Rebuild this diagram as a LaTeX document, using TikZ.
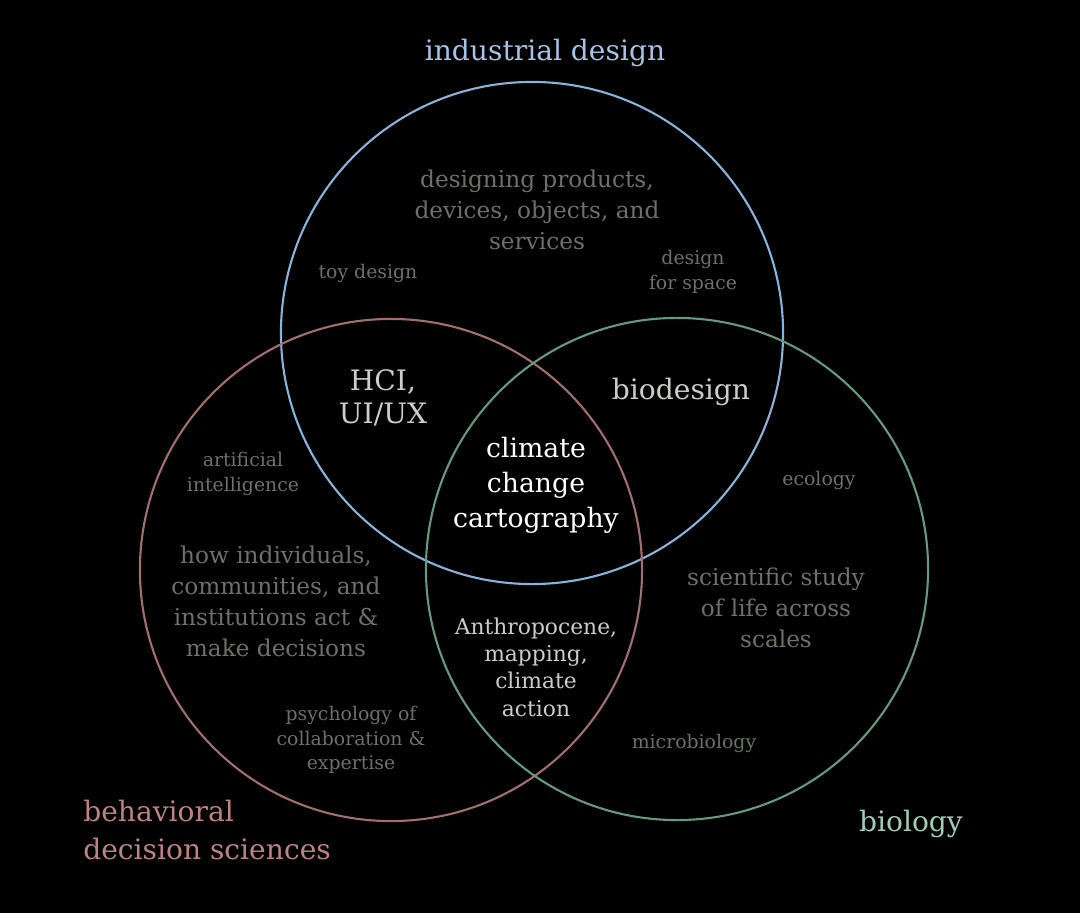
\documentclass[tikz,border=0pt]{standalone}
\usepackage{fontspec}
\setmainfont{DejaVu Serif}
\usepackage{xcolor}
\usetikzlibrary{positioning}

\definecolor{ringblue}{RGB}{135,180,220}
\definecolor{ringred}{RGB}{165,110,110}
\definecolor{ringgreen}{RGB}{100,155,125}
\definecolor{txtblue}{RGB}{165,195,230}
\definecolor{txtred}{RGB}{190,130,130}
\definecolor{txtgreen}{RGB}{160,205,185}
\definecolor{txtgray}{RGB}{108,114,102}
\definecolor{txtlight}{RGB}{205,205,198}

\begin{document}
\begin{tikzpicture}[
  x=0.025cm, y=-0.025cm,
  every node/.style={align=center, inner sep=0pt},
  ring/.style    ={line width=1.5pt},
  field/.style   ={font=\fontsize{20}{27.5}\selectfont},
  topic/.style   ={text=txtgray, font=\fontsize{16.5}{22}\selectfont},
  small/.style   ={text=txtgray, font=\fontsize{13.4}{17.5}\selectfont},
  overlap/.style ={text=txtlight, font=\fontsize{20}{23.5}\selectfont},
  core/.style    ={text=white, font=\fontsize{19}{25}\selectfont},
]

% Background
\fill[black] (0,0) rectangle (1080,913);
\useasboundingbox (0,0) rectangle (1080,913);

% Circles
\draw[ring, ringblue]  (532,333) circle[radius=6.275cm];
\draw[ring, ringred]   (391,570) circle[radius=6.275cm];
\draw[ring, ringgreen] (677,569) circle[radius=6.275cm];

% Field labels
\node[field, text=txtblue]  (design) at (545,53)  {industrial design};
\node[field, text=txtred, align=left, anchor=west] (bds) at (83,830) {behavioral\\decision sciences};
\node[field, text=txtgreen] (bio) at (911,824) {biology};

% Industrial design only
\node[topic] (products) at (537,210) {designing products,\\devices, objects, and\\services};
\node[small] (toy)      at (368,273) {toy design};
\node[small] (space)    at (693,272) {design\\for space};

% Behavioral decision sciences only
\node[small] (ai)     at (243,474) {artificial\\intelligence};
\node[topic] (decide) at (276,601) {how individuals,\\communities, and\\institutions act \&\\make decisions};
\node[small] (psych)  at (351,740) {psychology of\\collaboration \&\\expertise};

% Biology only
\node[small] (eco)   at (819,480) {ecology};
\node[topic] (life)  at (776,608) {scientific study\\of life across\\scales};
\node[small] (micro) at (694,743) {microbiology};

% Overlaps
\node[overlap] (hci)    at (383,398) {HCI,\\UI/UX};
\node[overlap] (biodes) at (681,392) {biodesign};
\node[overlap, font=\fontsize{15.5}{19.5}\selectfont] (anthro) at (536,667) {Anthropocene,\\mapping,\\climate\\action};

% Centre
\node[core] (ccc) at (536,485) {climate\\change\\cartography};

\end{tikzpicture}
\end{document}
